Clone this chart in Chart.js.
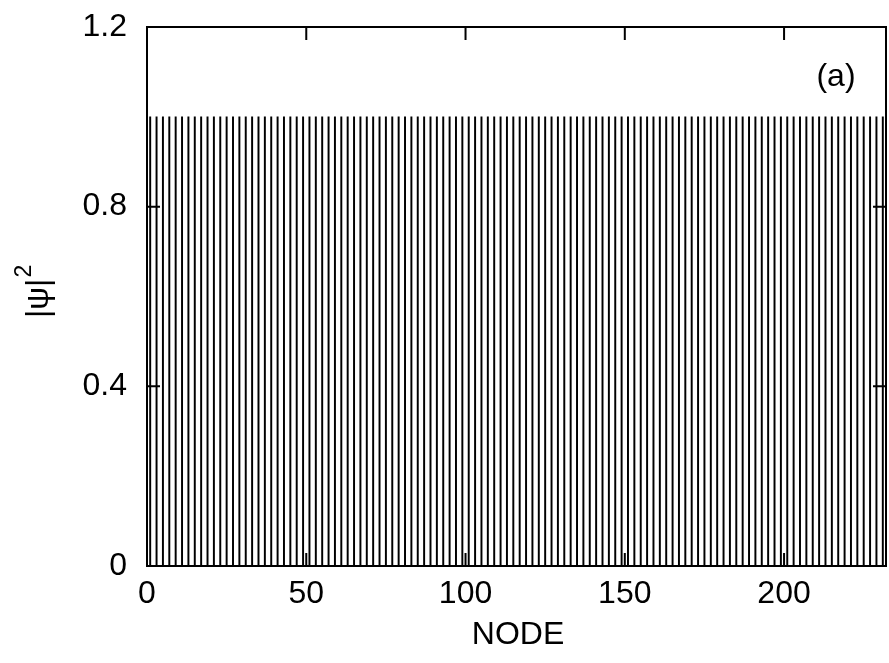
<!DOCTYPE html>
<html>
<head>
<meta charset="utf-8">
<script src="https://cdn.jsdelivr.net/npm/chart.js@4/dist/chart.umd.min.js"></script>
<style>
    html, body { margin: 0; padding: 0; background: #fff; }
    #wrap { width: 889px; height: 663px; }
</style>
</head>
<body>
<div id="wrap"><canvas id="psiChart" width="889" height="663"></canvas></div>
<script>
// |psi|^2 on every node of the lattice (nodes 0..232)
const psi2 = [
    0, 1, 0, 1, 0, 1, 0, 1, 0, 1, 0, 1, 0, 1, 0, 1, 0, 1, 0, 1,
    0, 1, 0, 1, 0, 1, 0, 1, 0, 1, 0, 1, 0, 1, 0, 1, 0, 1, 0, 1,
    0, 1, 0, 1, 0, 1, 0, 1, 0, 1, 0, 1, 0, 1, 0, 1, 0, 1, 0, 1,
    0, 1, 0, 1, 0, 1, 0, 1, 0, 1, 0, 1, 0, 1, 0, 1, 0, 1, 0, 1,
    0, 1, 0, 1, 0, 1, 0, 1, 0, 1, 0, 1, 0, 1, 0, 1, 0, 1, 0, 1,
    0, 1, 0, 1, 0, 1, 0, 1, 0, 1, 0, 1, 0, 1, 0, 1, 0, 1, 0, 1,
    0, 1, 0, 1, 0, 1, 0, 1, 0, 1, 0, 1, 0, 1, 0, 1, 0, 1, 0, 1,
    0, 1, 0, 1, 0, 1, 0, 1, 0, 1, 0, 1, 0, 1, 0, 1, 0, 1, 0, 1,
    0, 1, 0, 1, 0, 1, 0, 1, 0, 1, 0, 1, 0, 1, 0, 1, 0, 1, 0, 1,
    0, 1, 0, 1, 0, 1, 0, 1, 0, 1, 0, 1, 0, 1, 0, 1, 0, 1, 0, 1,
    0, 1, 0, 1, 0, 1, 0, 1, 0, 1, 0, 1, 0, 1, 0, 1, 0, 1, 0, 1,
    0, 1, 0, 1, 0, 1, 0, 1, 0, 1, 0, 1, 0, 1, 0, 1, 0, 1, 0, 1,
    0, 1, 0, 1, 0, 1, 0, 1, 0, 1, 0, 1, 0
];
const nodes = psi2.map((v, i) => i);

const xTicks = [0, 50, 100, 150, 200];
const yTicks = [0, 0.4, 0.8, 1.2];
const xMax = 232;
const yMax = 1.2;

const FONT = "'Liberation Sans', Arial, Helvetica, sans-serif";
Chart.defaults.font.family = FONT;
Chart.defaults.font.size = 32;
Chart.defaults.color = "#000";

// gnuplot-like frame: full box with inward ticks on all four sides, plus labels
const framePlugin = {
    id: "frame",
    afterDatasetsDraw(chart) {
        const ctx = chart.ctx;
        const a = chart.chartArea;
        const xs = chart.scales.x, ys = chart.scales.y;
        const tl = 13;
        ctx.save();
        ctx.strokeStyle = "#000";
        ctx.lineWidth = 2;
        ctx.strokeRect(a.left, a.top, a.right - a.left, a.bottom - a.top);
        ctx.beginPath();
        xTicks.forEach((t) => {
            const px = xs.getPixelForValue(t);
            ctx.moveTo(px, a.bottom); ctx.lineTo(px, a.bottom - tl);
            ctx.moveTo(px, a.top); ctx.lineTo(px, a.top + tl);
        });
        yTicks.forEach((t) => {
            const py = ys.getPixelForValue(t);
            ctx.moveTo(a.left, py); ctx.lineTo(a.left + tl, py);
            ctx.moveTo(a.right, py); ctx.lineTo(a.right - tl, py);
        });
        ctx.stroke();

        ctx.fillStyle = "#000";
        ctx.font = "32px " + FONT;
        ctx.textBaseline = "alphabetic";

        // panel tag
        ctx.textAlign = "center";
        ctx.fillText("(a)", 836, 86);

        // x axis title
        ctx.fillText("NODE", 518, 644);

        // y axis title |psi|^2, rotated
        ctx.translate(48, 318);
        ctx.rotate(-Math.PI / 2);
        ctx.textAlign = "left";
        const main = "|\u03C8|";
        ctx.fillText(main, 0, 0);
        const w = ctx.measureText(main).width;
        ctx.font = "23px " + FONT;
        ctx.fillText("2", w + 1, -17);
        ctx.restore();
    }
};

new Chart(document.getElementById("psiChart"), {
    type: "bar",
    data: {
        datasets: [{
            data: nodes.map((n, i) => ({ x: n, y: psi2[i] })),
            backgroundColor: "#000",
            borderWidth: 0,
            barThickness: 1.3,
        }],
    },
    options: {
        responsive: false,
        animation: false,
        events: [],
        layout: { padding: { top: 27, right: 3, left: 0, bottom: 0 } },
        plugins: { legend: { display: false }, tooltip: { enabled: false } },
        scales: {
            x: {
                type: "linear",
                min: 0,
                max: xMax,
                offset: false,
                grid: { display: false, drawTicks: false },
                border: { display: false },
                ticks: {
                    stepSize: 50,
                    includeBounds: false,
                    padding: 9,
                    maxRotation: 0,
                    autoSkip: false,
                },
                afterFit(scale) {
                    scale.height = 97;
                    scale.paddingLeft = 0;
                    scale.paddingRight = 0;
                },
            },
            y: {
                min: 0,
                max: yMax,
                grid: { display: false, drawTicks: false },
                border: { display: false },
                ticks: {
                    stepSize: 0.4,
                    includeBounds: false,
                    padding: 20,
                    callback: (v) => (v === 0 ? "0" : (+v).toFixed(1)),
                },
                afterFit(scale) {
                    scale.width = 147;
                    scale.paddingTop = 0;
                    scale.paddingBottom = 0;
                },
            },
        },
    },
    plugins: [framePlugin],
});
</script>
</body>
</html>
